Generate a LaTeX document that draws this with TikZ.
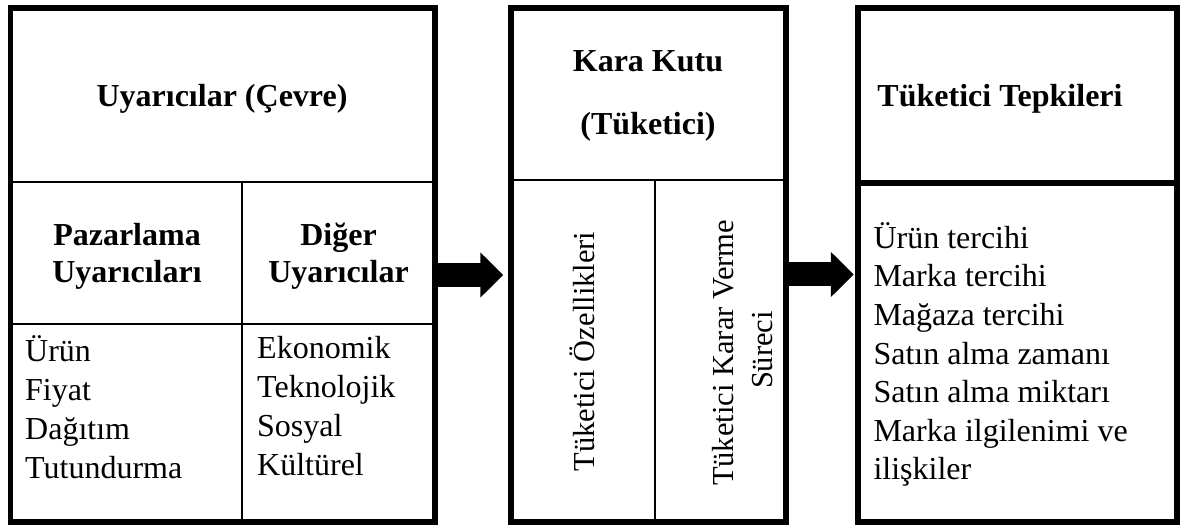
\documentclass[tikz,border=0pt]{standalone}
\usepackage{fontspec}
\setmainfont{Liberation Serif}
\usetikzlibrary{arrows.meta,calc}
\begin{document}
\begin{tikzpicture}[x=1pt,y=-1pt,
  frame/.style={draw,line width=5.5pt,rectangle,inner sep=0pt},
  rule/.style={line width=2pt},
  heavyrule/.style={line width=6pt},
  head/.style={inner sep=0pt,anchor=base,font=\fontsize{32}{37}\selectfont\bfseries},
  item/.style={inner sep=0pt,anchor=base west,font=\fontsize{32}{38.7}\selectfont},
  side/.style={inner sep=0pt,anchor=base,rotate=90,font=\fontsize{30.5}{39}\selectfont},
  flow/.style={line width=24pt,-{Triangle[length=23pt,width=44pt]}}
]
\useasboundingbox (0,0) rectangle (1180,526);

% three outer frames
\node[frame,minimum width=424.3pt,minimum height=514pt] (L) at (222.85,265) {};
\node[frame,minimum width=275pt,minimum height=514pt] (M) at (648.5,265) {};
\node[frame,minimum width=319pt,minimum height=514pt] (R) at (1017.5,265) {};

% inner divisions of the stimulus frame
\draw[rule] (L.west |- 0,181.7) -- (L.east |- 0,181.7);
\draw[rule] (L.west |- 0,324) -- (L.east |- 0,324);
\coordinate (Lsplit) at (241.7,181.7);
\draw[rule] (Lsplit) -- (Lsplit |- L.south);

% inner divisions of the black box
\draw[rule] (M.west |- 0,180) -- (M.east |- 0,180);
\coordinate (Msplit) at (655,180);
\draw[rule] (Msplit) -- (Msplit |- M.south);

% division of the response frame
\draw[heavyrule] (R.west |- 0,183) -- (R.east |- 0,183);

% stimulus texts
\node[head] (Lt) at (222,107) {Uyarıcılar (Çevre)};
\node[head] (p1) at (127,246) {Pazarlama};
\node[head] (p2) at (127,283) {Uyarıcıları};
\node[head] (d1) at (338.5,246) {Diğer};
\node[head] (d2) at (338.5,283) {Uyarıcılar};
\foreach \t [count=\i] in {Ürün,Fiyat,Dağıtım,Tutundurma}
  \node[item] (pm\i) at (25,{361+39*(\i-1)}) {\t};
\foreach \t [count=\i] in {Ekonomik,Teknolojik,Sosyal,Kültürel}
  \node[item] (om\i) at (257,{359+38.7*(\i-1)}) {\t};

% black box texts
\node[head] (Mt1) at (648,72) {Kara Kutu};
\node[head] (Mt2) at (648,135) {(Tüketici)};
\node[side] (oz) at (594,351.5) {Tüketici Özellikleri};
\node[side] (k1) at (733,353) {Tüketici Karar Verme};
\node[side] (k2) at (772,350) {Süreci};

% response texts
\node[head] (Rt) at (1000,107) {Tüketici Tepkileri};
\foreach \t [count=\i] in {Ürün tercihi,Marka tercihi,Mağaza tercihi,Satın alma zamanı,Satın alma miktarı,Marka ilgilenimi ve,ilişkiler}
  \node[item] (r\i) at (873.3,{248.3+38.6*(\i-1)}) {\t};

% block arrows between the frames
\draw[flow] ($(L.east)+(-1,10)$) -- ($(M.west)+(-5,10)$);
\draw[flow] ($(M.east)+(-1,9.5)$) -- ($(R.west)+(-1.5,9.5)$);
\end{tikzpicture}
\end{document}
